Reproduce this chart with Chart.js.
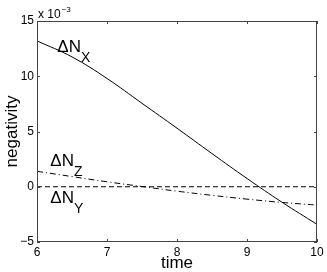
<!DOCTYPE html>
<html>
<head>
<meta charset="utf-8">
<script src="https://cdn.jsdelivr.net/npm/chart.js@4"></script>
<style>
  html, body { margin: 0; padding: 0; background: #fff; }
  #wrap { width: 327px; height: 272px; }
</style>
</head>
<body>
<div id="wrap"><canvas id="negativity"></canvas></div>
<script>
// time axis samples
var times = [6, 6.5, 7, 7.5, 8, 8.5, 9, 9.5, 10];
// negativity values (x 10^-3)
var deltaNX = [13.2, 11.75, 9.8, 7.55, 5.3, 3.0, 0.75, -1.4, -3.4];
var deltaNY = [0, 0, 0, 0, 0, 0, 0, 0, 0];
var deltaNZ = [1.4, 0.92, 0.45, 0.02, -0.4, -0.78, -1.12, -1.42, -1.66];
// tick labels
var xTicks = [6, 7, 8, 9, 10];
var yTicks = [-5, 0, 5, 10, 15];

function points(vals) {
  return times.map(function (t, i) { return { x: t, y: vals[i] }; });
}

var FONT = "'Liberation Sans', Arial, Helvetica, sans-serif";

// MATLAB-ish box, inward ticks, labels and exponent
var matlabBox = {
  id: "matlabBox",
  afterDraw: function (chart) {
    var c = chart.ctx, a = chart.chartArea;
    var xs = chart.scales.x, ys = chart.scales.y;
    c.save();
    c.strokeStyle = "#444";
    c.lineWidth = 1;
    c.strokeRect(Math.round(a.left) + 0.5, Math.round(a.top) + 0.5,
      Math.round(a.right - a.left) - 1, Math.round(a.bottom - a.top) - 1);
    c.beginPath();
    xTicks.forEach(function (v) {
      var px = Math.round(xs.getPixelForValue(v)) + 0.5;
      c.moveTo(px, a.bottom); c.lineTo(px, a.bottom - 3);
      c.moveTo(px, a.top); c.lineTo(px, a.top + 3);
    });
    yTicks.forEach(function (v) {
      var py = Math.round(ys.getPixelForValue(v)) + 0.5;
      c.moveTo(a.left, py); c.lineTo(a.left + 3, py);
      c.moveTo(a.right, py); c.lineTo(a.right - 3, py);
    });
    c.stroke();

    // exponent
    c.fillStyle = "#000";
    c.textBaseline = "alphabetic";
    c.textAlign = "left";
    c.font = "12px " + FONT;
    c.fillText("x 10", a.left + 1, a.top - 3);
    var w = c.measureText("x 10").width;
    c.font = "8px " + FONT;
    c.fillText("\u22123", a.left + 1 + w + 1, a.top - 9);

    // curve labels
    function label(sub, t, v) {
      var px = xs.getPixelForValue(t), py = ys.getPixelForValue(v);
      c.font = "17px " + FONT;
      c.fillText("\u0394N", px, py);
      var ww = c.measureText("\u0394N").width;
      c.font = "14px " + FONT;
      c.fillText(sub, px + ww, py + 10);
    }
    label("X", 6.29, 12.2);
    label("Z", 6.19, 1.9);
    label("Y", 6.19, -1.5);
    c.restore();
  }
};

var ctx = document.getElementById("negativity");
var myChart = new Chart(ctx, {
  type: "line",
  data: {
    datasets: [
      {
        label: "\u0394N_X",
        data: points(deltaNX),
        borderColor: "#000",
        borderWidth: 1,
        pointRadius: 0,
        tension: 0.4,
        fill: false
      },
      {
        label: "\u0394N_Y",
        data: points(deltaNY),
        borderColor: "#000",
        borderWidth: 1,
        borderDash: [5, 3],
        pointRadius: 0,
        fill: false
      },
      {
        label: "\u0394N_Z",
        data: points(deltaNZ),
        borderColor: "#000",
        borderWidth: 1,
        borderDash: [6, 3, 1, 3],
        pointRadius: 0,
        tension: 0.4,
        fill: false
      }
    ]
  },
  options: {
    responsive: true,
    maintainAspectRatio: false,
    animation: false,
    layout: { padding: { top: 21, right: 10, left: 0, bottom: 0 } },
    plugins: { legend: { display: false }, tooltip: { enabled: false } },
    scales: {
      x: {
        type: "linear",
        min: 6,
        max: 10,
        grid: { display: false, drawTicks: false },
        border: { display: false },
        afterBuildTicks: function (s) { s.ticks = xTicks.map(function (v) { return { value: v }; }); },
        afterFit: function (s) { s.height = 30; },
        ticks: { color: "#000", padding: 3, maxRotation: 0, font: { family: FONT, size: 12 } },
        title: { display: true, text: "time", color: "#000", padding: 0, font: { family: FONT, size: 17, lineHeight: 1 } }
      },
      y: {
        min: -5,
        max: 15,
        grid: { display: false, drawTicks: false },
        border: { display: false },
        afterBuildTicks: function (s) { s.ticks = yTicks.map(function (v) { return { value: v }; }); },
        afterFit: function (s) { s.width = 37; },
        ticks: {
          color: "#000",
          padding: 3,
          font: { family: FONT, size: 12 },
          callback: function (v) { return v < 0 ? "\u2212" + Math.abs(v) : String(v); }
        },
        title: { display: true, text: "negativity", color: "#000", padding: 2, font: { family: FONT, size: 17, lineHeight: 1.2 } }
      }
    }
  },
  plugins: [matlabBox]
});
</script>
</body>
</html>
